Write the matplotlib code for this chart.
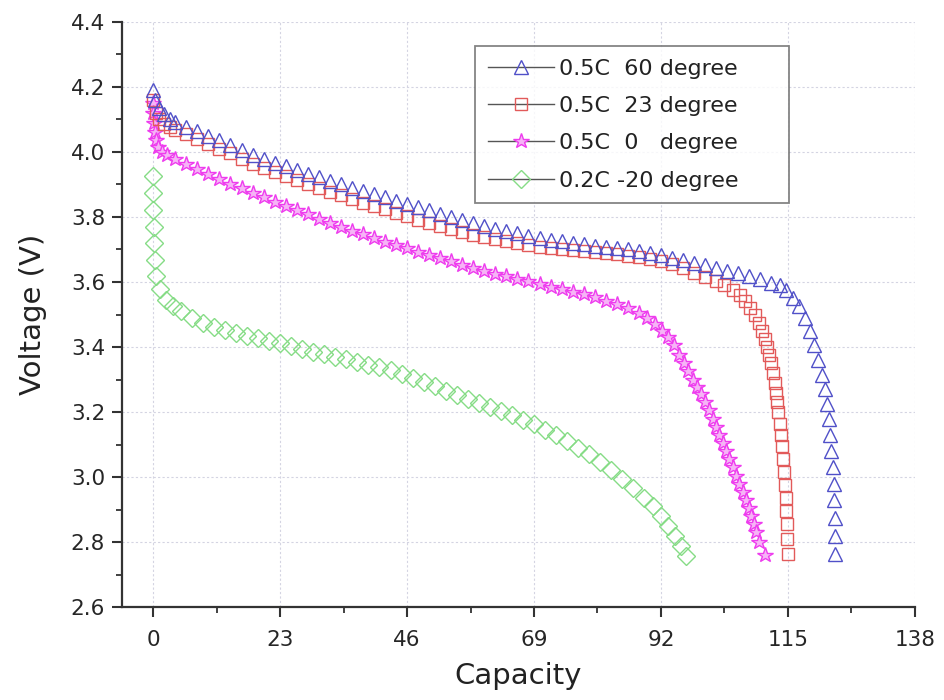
import numpy as np
import matplotlib
matplotlib.use("Agg")
import matplotlib.pyplot as plt
from matplotlib.lines import Line2D
from matplotlib.ticker import MultipleLocator

plt.rcParams['font.family'] = ['DejaVu Sans']

# =========================
# data
# =========================
x_60 = [0, 0.4, 1, 2, 3, 4, 6, 8, 10, 12, 14, 16, 18, 20, 22, 24, 26, 28, 30, 32,
        34, 36, 38, 40, 42, 44, 46, 48, 50, 52, 54, 56, 58, 60, 62, 64, 66, 68, 70, 72,
        74, 76, 78, 80, 82, 84, 86, 88, 90, 92, 94, 96, 98, 100, 102, 104, 106, 108, 110, 112,
        113.5, 114.7, 116, 117.1, 118.2, 119, 119.8, 120.5, 121.2, 121.7, 122.1, 122.4, 122.7, 122.9, 123.1,
        123.3, 123.4, 123.5, 123.5, 123.6]
y_60 = [4.19, 4.16, 4.135, 4.115, 4.10, 4.092, 4.077, 4.064, 4.05, 4.035, 4.02, 4.005, 3.99, 3.978, 3.966, 3.955, 3.944, 3.933, 3.922, 3.911,
        3.90, 3.89, 3.88, 3.87, 3.86, 3.85, 3.84, 3.83, 3.82, 3.81, 3.80, 3.79, 3.781, 3.772, 3.764, 3.756, 3.749, 3.742, 3.736, 3.730,
        3.725, 3.720, 3.716, 3.712, 3.708, 3.704, 3.700, 3.695, 3.689, 3.682, 3.675, 3.667, 3.659, 3.651, 3.643, 3.635, 3.627, 3.618, 3.608, 3.598,
        3.59, 3.575, 3.55, 3.525, 3.49, 3.45, 3.405, 3.36, 3.315, 3.27, 3.225, 3.18, 3.13, 3.08, 3.03,
        2.98, 2.93, 2.875, 2.82, 2.765]

x_23 = [0, 0.5, 1, 2, 3, 4, 6, 8, 10, 12, 14, 16, 18, 20, 22, 24, 26, 28, 30, 32,
        34, 36, 38, 40, 42, 44, 46, 48, 50, 52, 54, 56, 58, 60, 62, 64, 66, 68, 70, 72,
        74, 76, 78, 80, 82, 84, 86, 88, 90, 92, 94, 96, 98, 100, 102, 103.5, 105, 106.3, 107.3, 108.2,
        109, 109.7, 110.3, 110.8, 111.2, 111.6, 112, 112.3, 112.6, 112.9, 113.1, 113.3, 113.5, 113.7, 113.9,
        114.1, 114.3, 114.5, 114.6, 114.7, 114.8, 114.9, 115]
y_23 = [4.16, 4.12, 4.10, 4.085, 4.075, 4.068, 4.055, 4.04, 4.025, 4.01, 3.995, 3.978, 3.962, 3.95, 3.938, 3.926, 3.914, 3.902, 3.89, 3.878,
        3.866, 3.855, 3.844, 3.833, 3.823, 3.813, 3.803, 3.792, 3.781, 3.771, 3.762, 3.753, 3.745, 3.738, 3.731, 3.725, 3.719, 3.713, 3.708, 3.704,
        3.70, 3.697, 3.694, 3.691, 3.688, 3.685, 3.681, 3.677, 3.671, 3.664, 3.655, 3.643, 3.628, 3.614, 3.602, 3.59, 3.575, 3.56, 3.54, 3.52,
        3.50, 3.475, 3.45, 3.425, 3.40, 3.375, 3.35, 3.32, 3.29, 3.26, 3.23, 3.20, 3.165, 3.13, 3.095,
        3.055, 3.015, 2.975, 2.935, 2.895, 2.855, 2.81, 2.765]

x_0 = [0, 0, 0.2, 0.3, 0.5, 0.8, 1.5, 2.5, 4, 6, 8, 10, 12, 14, 16, 18, 20, 22, 24, 26,
       28, 30, 32, 34, 36, 38, 40, 42, 44, 46, 48, 50, 52, 54, 56, 58, 60, 62, 64, 66,
       68, 70, 72, 74, 76, 78, 80, 82, 84, 86, 88, 89.5, 91, 92.2, 93.3, 94.3, 95.3, 96.2, 97, 97.8,
       98.6, 99.3, 100, 100.7, 101.4, 102, 102.6, 103.2, 103.8, 104.4, 105, 105.6, 106.2, 106.8, 107.4,
       107.9, 108.4, 108.9, 109.3, 109.8, 110.8]
y_0 = [4.15, 4.12, 4.09, 4.06, 4.035, 4.015, 4.0, 3.99, 3.978, 3.962, 3.947, 3.932, 3.917, 3.902, 3.888, 3.874, 3.86, 3.847, 3.834, 3.821,
       3.808, 3.795, 3.782, 3.77, 3.758, 3.746, 3.735, 3.724, 3.713, 3.703, 3.693, 3.683, 3.673, 3.663, 3.653, 3.643, 3.634, 3.626, 3.618, 3.61,
       3.602, 3.594, 3.586, 3.578, 3.57, 3.562, 3.553, 3.543, 3.532, 3.52, 3.505, 3.49, 3.47, 3.45, 3.43, 3.405, 3.375, 3.35, 3.325, 3.30,
       3.278, 3.255, 3.23, 3.205, 3.18, 3.155, 3.13, 3.105, 3.08, 3.055, 3.03, 3.005, 2.98, 2.955, 2.93,
       2.905, 2.88, 2.855, 2.83, 2.80, 2.76]

x_m20 = [0, 0, 0, 0.2, 0.2, 0.3, 0.5, 1.2, 2.4, 3.6, 5, 7, 9, 11, 13, 15, 17, 19, 21, 23,
         25, 27, 29, 31, 33, 35, 37, 39, 41, 43, 45, 47, 49, 51, 53, 55, 57, 59, 61, 63,
         65, 67, 69, 71, 73, 75, 77, 79, 81, 83, 85, 87, 89, 90.5, 92, 93.3, 94.5, 95.6, 96.6]
y_m20 = [3.925, 3.872, 3.82, 3.77, 3.72, 3.668, 3.618, 3.578, 3.545, 3.525, 3.51, 3.49, 3.475, 3.462, 3.452, 3.443, 3.435, 3.428, 3.42, 3.412,
         3.403, 3.394, 3.386, 3.378, 3.37, 3.362, 3.354, 3.346, 3.339, 3.33, 3.318, 3.305, 3.292, 3.279, 3.266, 3.253, 3.241, 3.229, 3.216, 3.203,
         3.19, 3.176, 3.162, 3.146, 3.129, 3.111, 3.091, 3.07, 3.047, 3.022, 2.995, 2.966, 2.935, 2.91, 2.88, 2.85, 2.82, 2.79, 2.757]

labels = ['0.5C  60 degree', '0.5C  23 degree', '0.5C  0   degree', '0.2C -20 degree']

x_ticks = [0, 23, 46, 69, 92, 115, 138]
y_ticks = [2.6, 2.8, 3.0, 3.2, 3.4, 3.6, 3.8, 4.0, 4.2, 4.4]

# =========================
# styles
# =========================
c_blue = '#5050c8'
c_red = '#e25a5a'
c_mag = '#ee3cee'
c_green = '#86dc86'

series = [
    (x_60, y_60, '^', c_blue, 'none', 10.5),
    (x_23, y_23, 's', c_red, 'none', 9),
    (x_0, y_0, '*', c_mag, '#f6b4f6', 11.5),
    (x_m20, y_m20, 'D', c_green, 'none', 9),
]

fig = plt.figure(figsize=(9.44, 7.0), dpi=100)
ax = fig.add_axes([0.129, 0.1324, 0.840, 0.8366])

for xs, ys, mk, col, fc, ms in [series[3], series[2], series[1], series[0]]:
    ax.plot(xs, ys, linestyle='none', marker=mk, markersize=ms,
            markeredgecolor=col, markerfacecolor=fc, markeredgewidth=1.0)

ax.set_xlim(-5.7, 138)
ax.set_ylim(2.6, 4.4)
ax.set_xticks(x_ticks)
ax.set_yticks(y_ticks)
ax.set_yticklabels([f'{v:.1f}' for v in y_ticks])
ax.xaxis.set_minor_locator(MultipleLocator(11.5))
ax.yaxis.set_minor_locator(MultipleLocator(0.1))

for s in ['top', 'right']:
    ax.spines[s].set_visible(False)
for s in ['left', 'bottom']:
    ax.spines[s].set_linewidth(1.6)
    ax.spines[s].set_color('#333333')

ax.tick_params(which='major', direction='out', length=7, width=1.5,
               colors='#333333', labelsize=15.5, labelcolor='#262626')
ax.tick_params(axis='x', which='major', pad=9)
ax.tick_params(axis='y', which='major', pad=5)
ax.tick_params(which='minor', direction='out', length=4, width=1.3, colors='#333333')

ax.grid(True, which='major', color='#d4d4e2', linestyle=(0, (2, 2)), linewidth=0.8)
ax.set_axisbelow(True)

ax.set_xlabel('Capacity', fontsize=21, color='#222222', labelpad=9)
ax.set_ylabel('Voltage (V)', fontsize=21, color='#222222', labelpad=17)

handles = []
for xs, ys, mk, col, fc, ms in series:
    handles.append(Line2D([], [], color='#555555', linewidth=1.0, marker=mk,
                          markersize=ms, markeredgecolor=col, markerfacecolor=fc,
                          markeredgewidth=1.0))

leg = ax.legend(handles, labels, loc='upper left',
                bbox_to_anchor=(0.446, 0.958, 0.395, 0.0), mode='expand',
                fontsize=16, frameon=True, fancybox=False, handlelength=3.0,
                handletextpad=0.2, labelspacing=0.78, borderpad=0.55,
                borderaxespad=0)
leg.get_frame().set_edgecolor('#666666')
leg.get_frame().set_linewidth(1.3)
for t in leg.get_texts():
    t.set_color('#222222')

fig.savefig('out.png', dpi=100)
